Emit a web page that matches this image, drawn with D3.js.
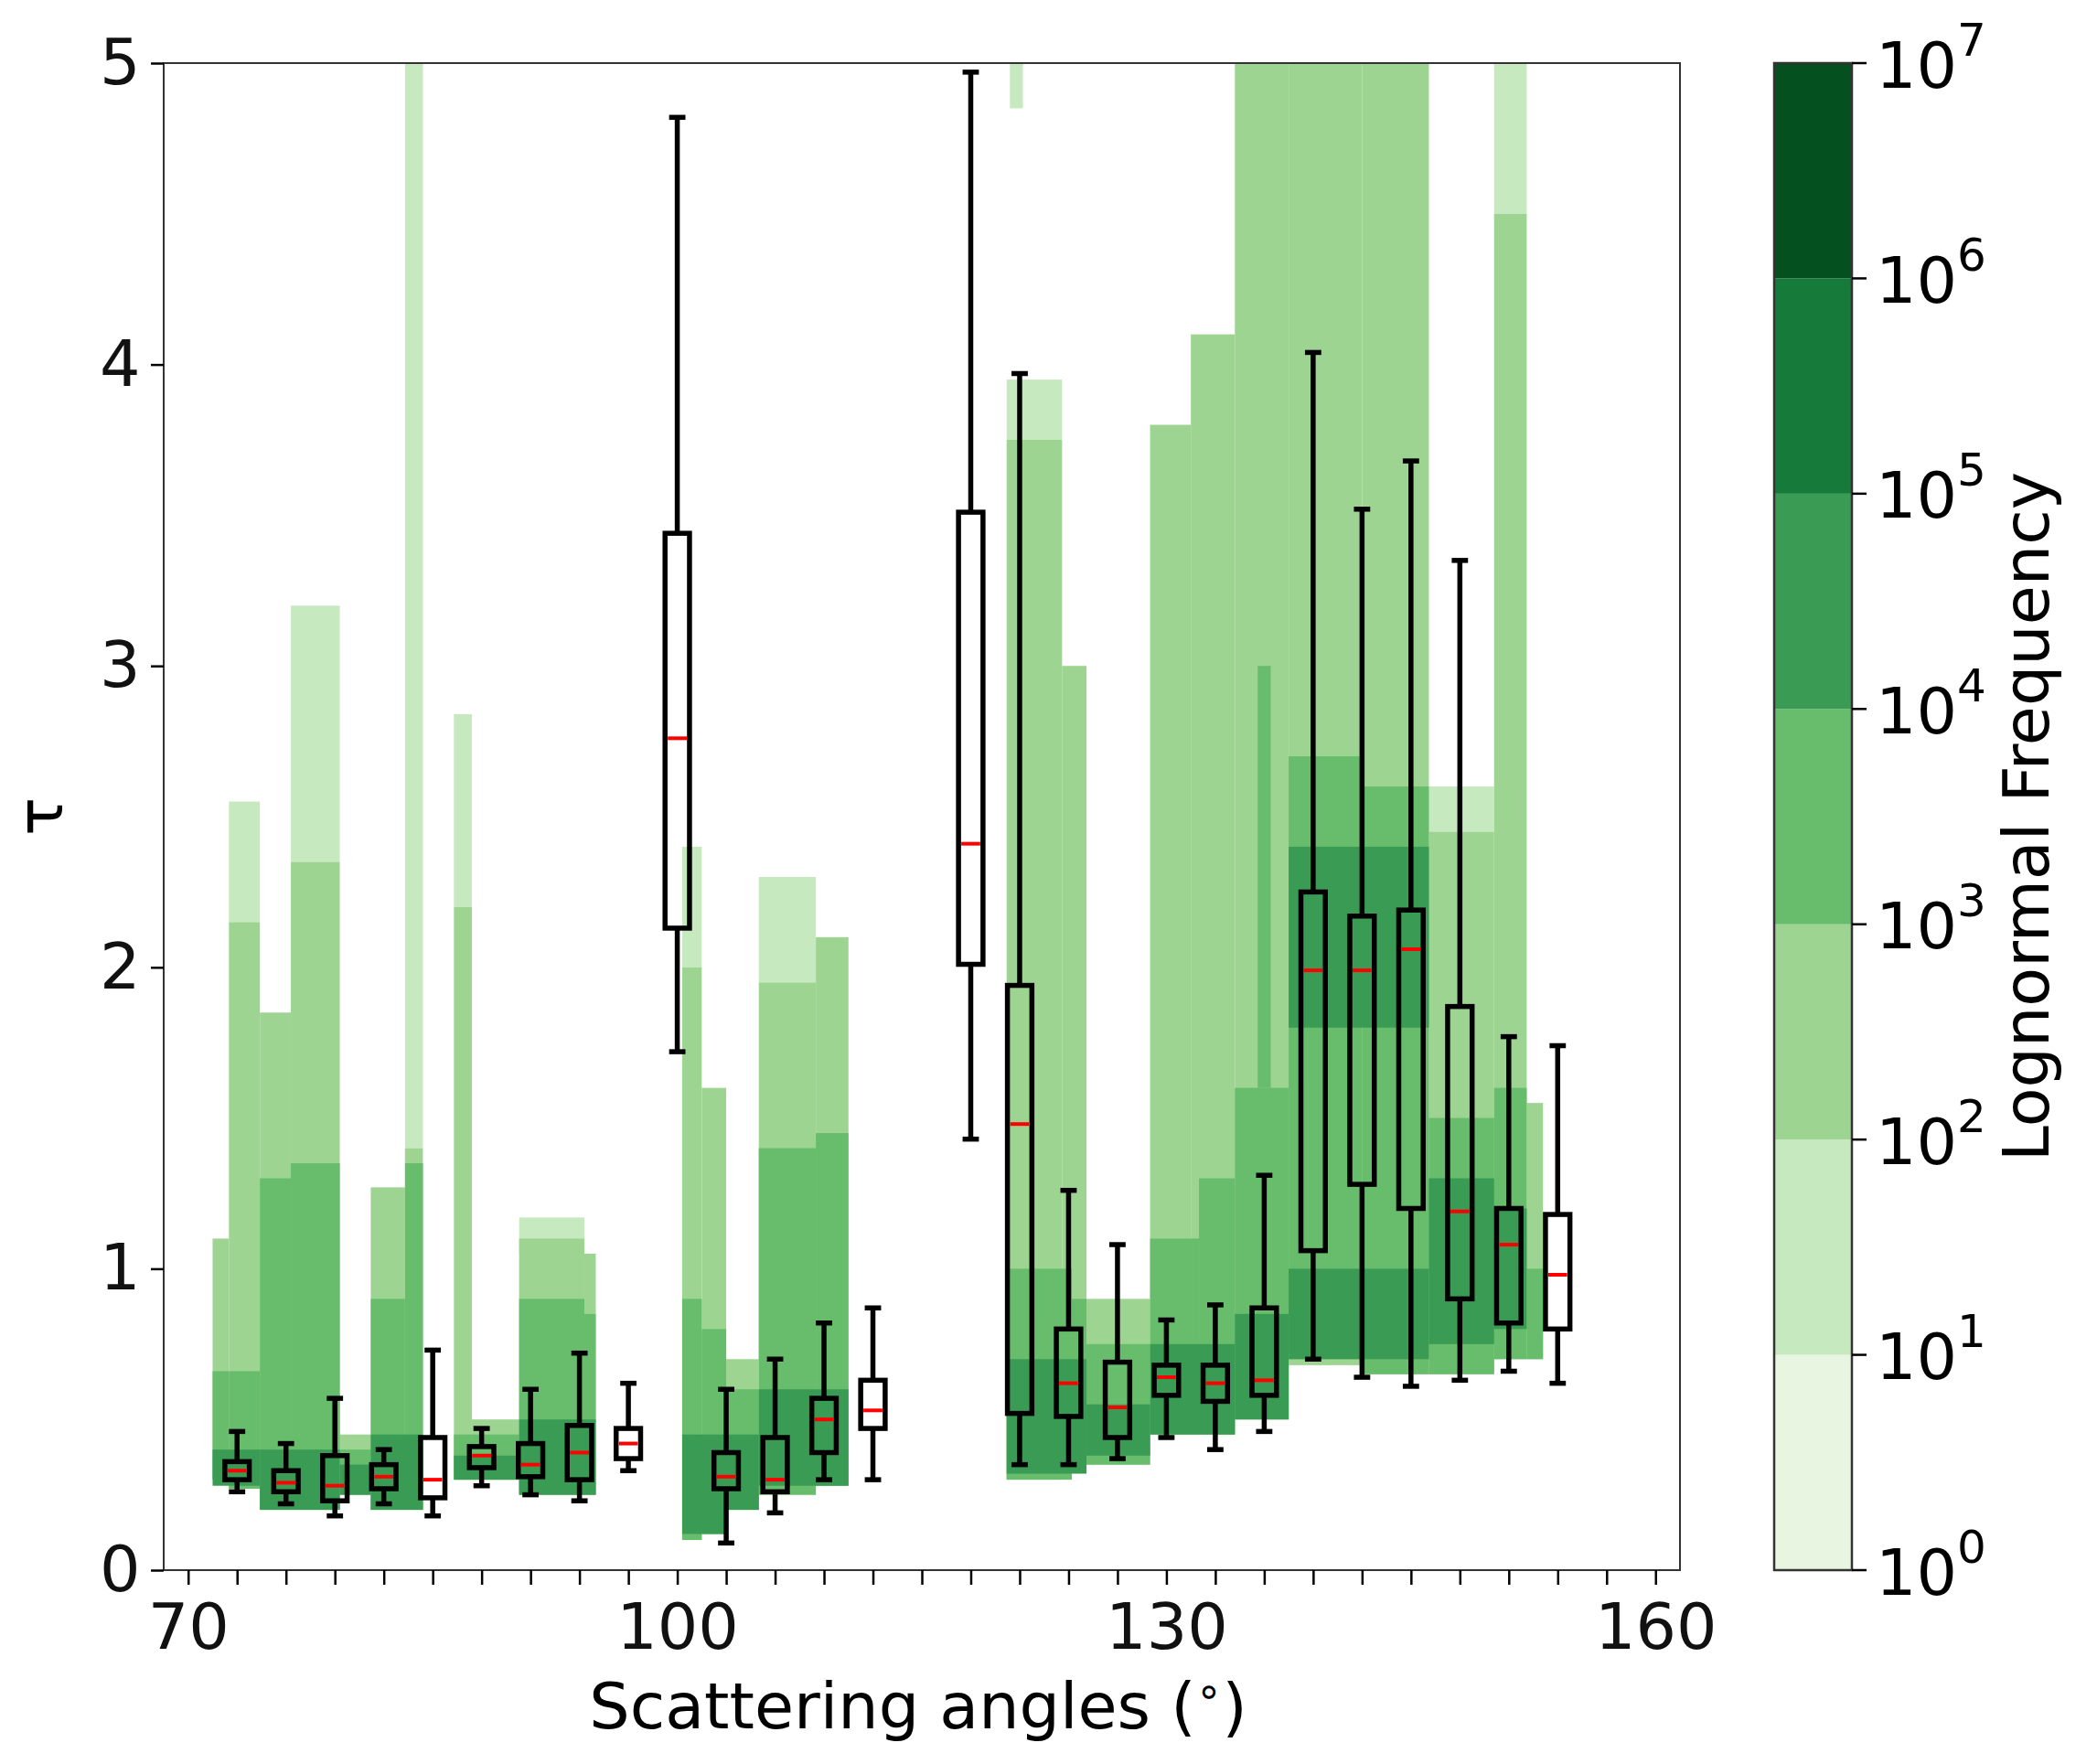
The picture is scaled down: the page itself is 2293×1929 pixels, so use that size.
<!DOCTYPE html>
<html><head><meta charset="utf-8">
<script src="https://cdn.jsdelivr.net/npm/d3@7"></script>
<style>body{margin:0;background:#fff}text{font-family:"DejaVu Sans",sans-serif}</style>
</head><body><svg id="c" width="2293" height="1929"></svg>
<script>
// Filled density levels: [angleStart, angleEnd, tauLow, tauHigh]
const level1Cells = [[72.5,74.4,2.15,2.55],[76.3,79.3,2.35,3.2],[83.3,84.4,1.4,5.0],[86.3,87.4,2.2,2.84],[90.3,94.3,1.05,1.17],
  [100.3,101.5,2.0,2.4],[105,108.5,1.95,2.3],[120.2,123.6,3.75,3.95],[146.1,150.1,2.45,2.6],[150.1,152.1,4.5,5.0],[120.4,121.2,4.85,5.0]];
const level2Cells = [[71.5,72.5,0.3,1.1],[72.5,74.4,0.27,2.15],[74.4,76.3,0.2,1.85],[76.3,79.3,0.2,2.35],[79.3,81.2,0.25,0.45],
  [81.2,83.3,0.2,1.27],[83.3,84.4,0.2,1.4],[86.3,87.4,0.3,2.2],[87.4,90.3,0.3,0.5],[90.3,94.3,0.25,1.1],[94.3,95,0.25,1.05],
  [100.3,101.5,0.1,2.0],[101.5,103,0.12,1.6],[103,105,0.2,0.7],[105,108.5,0.25,1.95],[108.5,110.5,0.28,2.1],
  [120.2,123.6,0.3,3.75],[123.6,125.1,0.35,3.0],[125.1,129,0.35,0.9],[129,131.5,0.45,3.8],[131.5,134.2,0.45,4.1],
  [134.2,137.5,0.5,5.0],[137.5,142,0.68,5.0],[142,146.1,0.65,5.0],[146.1,150.1,0.65,2.45],[150.1,152.1,0.7,4.5],[152.1,153.1,0.7,1.55]];
const level3Cells = [[71.5,72.5,0.3,0.66],[72.5,74.4,0.27,0.66],[74.4,76.3,0.2,1.3],[76.3,79.3,0.2,1.35],[79.3,81.2,0.25,0.4],
  [81.2,83.3,0.2,0.9],[83.3,84.4,0.2,1.35],[86.3,87.4,0.3,0.45],[87.4,90.3,0.3,0.45],[90.3,94.3,0.25,0.9],[94.3,95,0.25,0.85],
  [100.3,101.5,0.1,0.9],[101.5,103,0.12,0.8],[103,105,0.2,0.6],[105,108.5,0.25,1.4],[108.5,110.5,0.28,1.45],
  [120.2,124.2,0.3,1.0],[124.2,125.1,0.35,0.9],[125.1,129,0.35,0.75],[129,132,0.45,1.1],[132,134.2,0.45,1.3],
  [134.2,137.5,0.5,1.6],[135.6,136.4,1.6,3.0],[137.5,142,0.7,2.7],[142,146.1,0.65,2.6],[146.1,150.1,0.65,1.5],[150.1,152.1,0.7,1.6],[152.1,153.1,0.7,1.0]];
const level4Cells = [[71.5,74.4,0.28,0.4],[74.4,79.3,0.2,0.4],[79.3,81.2,0.25,0.35],[81.2,84.4,0.2,0.45],[86.3,90.3,0.3,0.38],
  [90.3,95,0.25,0.5],[100.3,103,0.12,0.45],[103,105,0.2,0.45],[105,110.5,0.28,0.6],
  [120.2,125.1,0.32,0.7],[125.1,129,0.38,0.55],[129,134.2,0.45,0.75],[134.2,137.5,0.5,0.85],
  [137.5,146.1,1.8,2.4],[137.5,146.1,0.7,1.0],[146.1,150.1,0.75,1.3],[150.1,152.1,0.8,1.2]];
// Box stats: angle, whisker low, q1, median, q3, whisker high
const boxAngles = [73,76,79,82,85,88,91,94,97,100,103,106,109,112,118,121,124,127,130,133,136,139,142,145,148,151,154];
const boxStats = [[0.26,0.30,0.33,0.36,0.46],[0.22,0.26,0.29,0.33,0.42],[0.18,0.23,0.28,0.38,0.57],[0.22,0.27,0.31,0.35,0.40],
  [0.18,0.24,0.30,0.44,0.73],[0.28,0.34,0.38,0.41,0.47],[0.25,0.31,0.35,0.42,0.60],[0.23,0.30,0.39,0.48,0.72],
  [0.33,0.37,0.42,0.47,0.62],[1.72,2.13,2.76,3.44,4.82],[0.09,0.27,0.31,0.39,0.60],[0.19,0.26,0.30,0.44,0.70],
  [0.30,0.39,0.50,0.57,0.82],[0.30,0.47,0.53,0.63,0.87],[1.43,2.01,2.41,3.51,4.97],[0.35,0.52,1.48,1.94,3.97],
  [0.35,0.51,0.62,0.80,1.26],[0.37,0.44,0.54,0.69,1.08],[0.44,0.58,0.64,0.68,0.83],[0.40,0.56,0.62,0.68,0.88],
  [0.46,0.58,0.63,0.87,1.31],[0.70,1.06,1.99,2.25,4.04],[0.64,1.28,1.99,2.17,3.52],[0.61,1.20,2.06,2.19,3.68],
  [0.63,0.90,1.19,1.87,3.35],[0.66,0.82,1.08,1.20,1.77],[0.62,0.80,0.98,1.18,1.74]];
const xTickLabels = [70,100,130,160];
const yTickLabels = [0,1,2,3,4,5];
const cbExponents = [0,1,2,3,4,5,6,7];
const cbColors = ["#e8f5e0","#c7e9c0","#9dd492","#68bd6c","#3a9c54","#157a3a","#04501f"];

const svg = d3.select("#c");
const L=179,R=1837,T=69,B=1717;
const x = d3.scaleLinear().domain([68.5,161.5]).range([L,R]);
const y = d3.scaleLinear().domain([0,5]).range([B,T]);
const g = svg.append("g");
[level1Cells,level2Cells,level3Cells,level4Cells].forEach((cells,i)=>{
  g.selectAll(null).data(cells).join("rect")
   .attr("x",d=>x(d[0])).attr("width",d=>x(d[1])-x(d[0]))
   .attr("y",d=>y(d[3])).attr("height",d=>y(d[2])-y(d[3]))
   .attr("fill",cbColors[i+1]);
});
const bw = 1.5, cw = 1.0, lw = 5.5;
const bx = g.selectAll(".b").data(boxAngles.map((a,i)=>[a,...boxStats[i]])).join("g");
bx.append("line").attr("x1",d=>x(d[0])).attr("x2",d=>x(d[0])).attr("y1",d=>y(d[1])).attr("y2",d=>y(d[2])).attr("stroke","#000").attr("stroke-width",lw);
bx.append("line").attr("x1",d=>x(d[0])).attr("x2",d=>x(d[0])).attr("y1",d=>y(d[4])).attr("y2",d=>y(d[5])).attr("stroke","#000").attr("stroke-width",lw);
[1,5].forEach(k=>bx.append("line").attr("x1",d=>x(d[0]-cw/2)).attr("x2",d=>x(d[0]+cw/2)).attr("y1",d=>y(d[k])).attr("y2",d=>y(d[k])).attr("stroke","#000").attr("stroke-width",lw));
bx.append("rect").attr("x",d=>x(d[0]-bw/2)).attr("width",x(bw)-x(0)).attr("y",d=>y(d[4])).attr("height",d=>y(d[2])-y(d[4])).attr("fill","none").attr("stroke","#000").attr("stroke-width",lw);
bx.append("line").attr("x1",d=>x(d[0]-bw/2)+3).attr("x2",d=>x(d[0]+bw/2)-3).attr("y1",d=>y(d[3])).attr("y2",d=>y(d[3])).attr("stroke","#ff0000").attr("stroke-width",4);

svg.append("rect").attr("x",L).attr("y",T).attr("width",R-L).attr("height",B-T).attr("fill","none").attr("stroke","#333").attr("stroke-width",2);
const xa = svg.append("g").attr("transform",`translate(0,${B})`).call(d3.axisBottom(x).tickValues(d3.range(70,161,3)).tickSize(16).tickFormat(d=>xTickLabels.includes(d)?d:""));
xa.select(".domain").remove();
xa.selectAll("line").attr("stroke-width",2.5);
xa.selectAll("text").attr("font-size",70).attr("dy","0.95em").attr("fill","#111");
const ya = svg.append("g").attr("transform",`translate(${L},0)`).call(d3.axisLeft(y).tickValues(yTickLabels).tickSize(14).tickFormat(d3.format("d")));
ya.select(".domain").remove();
ya.selectAll("line").attr("stroke-width",2.5);
ya.selectAll("text").attr("font-size",70).attr("dx","-0.12em").attr("fill","#111");
const xl = svg.append("text").attr("x",(L+R)/2-4).attr("y",1890).attr("text-anchor","middle").attr("font-size",70);
xl.append("tspan").text("Scattering angles (");
xl.append("tspan").attr("font-size",46).attr("dy","-0.55em").text("\u2218");
xl.append("tspan").attr("dy","0.37em").text(")");
svg.append("text").attr("transform","translate(68,893) rotate(-90)").attr("text-anchor","middle").attr("font-size",70).text("τ");

// colorbar
const CL=1940,CR=2025;
const cy = d3.scaleLog().domain([1,1e7]).range([B,T]);
svg.append("g").selectAll("rect").data(cbColors).join("rect")
 .attr("x",CL).attr("width",CR-CL).attr("y",(d,i)=>cy(Math.pow(10,i+1))).attr("height",(d,i)=>cy(Math.pow(10,i))-cy(Math.pow(10,i+1))).attr("fill",d=>d);
svg.append("rect").attr("x",CL).attr("y",T).attr("width",CR-CL).attr("height",B-T).attr("fill","none").attr("stroke","#333").attr("stroke-width",2.5);
const cb = svg.append("g").selectAll("g").data(cbExponents).join("g").attr("transform",d=>`translate(${CR},${cy(Math.pow(10,d))})`);
cb.append("line").attr("x2",16).attr("stroke","#000").attr("stroke-width",2.5);
const tt = cb.append("text").attr("x",26).attr("dy","0.38em").attr("font-size",70);
tt.append("tspan").text("10");
tt.append("tspan").attr("font-size",50).attr("dy","-0.7em").text(d=>d);
svg.append("text").attr("transform","translate(2240,893) rotate(-90)").attr("text-anchor","middle").attr("font-size",70).text("Lognormal Frequency");
</script></body></html>
